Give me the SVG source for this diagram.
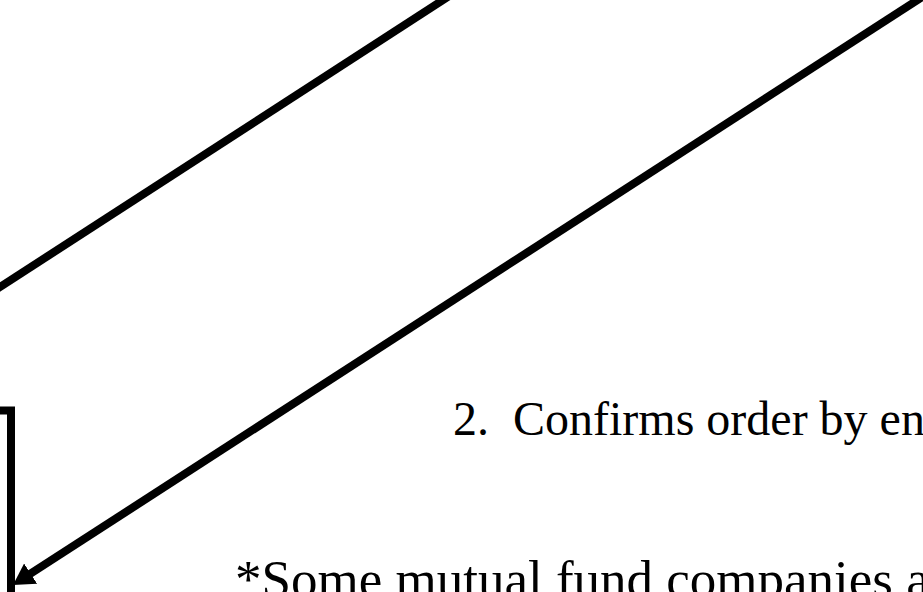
<svg xmlns="http://www.w3.org/2000/svg" width="923" height="592" viewBox="0 0 923 592">
<style>
.ln{fill:none;stroke:#000;stroke-width:8;stroke-linecap:butt;stroke-linejoin:miter}
.t{font-family:"Liberation Serif","Times New Roman",serif;fill:#000;white-space:pre}
</style>
<defs>
<marker id="ah" markerUnits="userSpaceOnUse" markerWidth="30" markerHeight="30" viewBox="0 0 30 30" refX="2" refY="15" orient="auto">
<path d="M0,3 L21,15 L0,27 Z" fill="#000"/>
</marker>
</defs>
<rect width="923" height="592" fill="#fff"/>
<g id="connectors">
<line class="ln" x1="-10" y1="293.5" x2="460" y2="-11"/>
<line class="ln" x1="950" y1="-21" x2="28.95" y2="574.68" marker-end="url(#ah)"/>
<path class="ln" d="M-10,410.5 H11 V600"/>
</g>
<g id="label-confirms">
<text class="t" x="453" y="435" font-size="48">2.  Confirms order by en</text>
</g>
<g id="note">
<text class="t" x="235" y="597" font-size="53">*Some mutual fund companies a</text>
</g>
</svg>
